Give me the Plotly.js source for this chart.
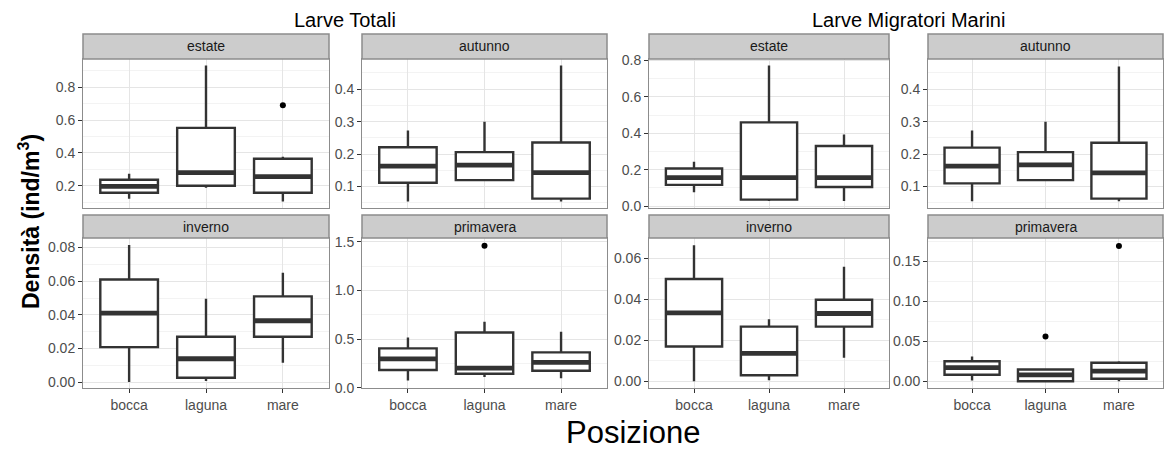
<!DOCTYPE html>
<html>
<head>
<meta charset="utf-8">
<script src="https://cdn.plot.ly/plotly-3.0.1.min.js"></script>
<style>
  html, body { margin: 0; padding: 0; background: #ffffff; }
  #chart { width: 1165px; height: 452px; }
</style>
</head>
<body>
<div id="chart"></div>
<script>
// Sampling positions (x categories)
const positions = ['bocca', 'laguna', 'mare'];

// Box summaries per position: [lower whisker, Q1, median, Q3, upper whisker]
const totaliEstate     = [[0.120, 0.157, 0.196, 0.236, 0.273], [0.188, 0.200, 0.279, 0.552, 0.933], [0.103, 0.157, 0.255, 0.364, 0.376]];
const totaliAutunno    = [[0.054, 0.112, 0.163, 0.221, 0.273], [0.120, 0.120, 0.166, 0.206, 0.300], [0.054, 0.063, 0.143, 0.236, 0.473]];
const totaliInverno    = [[0.000, 0.0208, 0.041, 0.061, 0.0816], [0.0006, 0.0026, 0.0139, 0.027, 0.0496], [0.0115, 0.027, 0.0365, 0.051, 0.065]];
const totaliPrimavera  = [[0.073, 0.182, 0.295, 0.404, 0.517], [0.110, 0.143, 0.200, 0.568, 0.677], [0.097, 0.174, 0.260, 0.363, 0.574]];
const marineEstate     = [[0.077, 0.117, 0.157, 0.207, 0.244], [0.028, 0.036, 0.157, 0.460, 0.773], [0.028, 0.105, 0.157, 0.330, 0.394]];
const marineAutunno    = [[0.055, 0.110, 0.163, 0.220, 0.273], [0.120, 0.120, 0.167, 0.206, 0.300], [0.055, 0.063, 0.142, 0.235, 0.470]];
const marineInverno    = [[0.000, 0.0169, 0.0333, 0.0498, 0.0663], [0.0005, 0.0029, 0.0136, 0.0266, 0.0302], [0.0114, 0.0266, 0.033, 0.0397, 0.0558]];
const marinePrimavera  = [[0.001, 0.008, 0.017, 0.025, 0.031], [0.000, 0.000, 0.008, 0.0147, 0.0147], [0.000, 0.003, 0.0126, 0.023, 0.025]];

// Outlying observations per position
const totaliEstateOut    = [[], [], [0.69]];
const totaliPrimaveraOut = [[], [1.46], []];
const marinePrimaveraOut = [[], [0.056], [0.169]];
const noOutliers         = [[], [], []];

// Facet labels and group titles
const seasons = ['estate', 'autunno', 'inverno', 'primavera'];
const groupTitles = ['Larve Totali', 'Larve Migratori Marini'];
const yTitle = '<b>Densità (ind/m<sup>3</sup>)</b>';
const xTitle = 'Posizione';

// ---- geometry (page pixels -> paper fractions) ----
const W = 1165, H = 452;
const fx = p => p / W;
const fy = p => 1 - p / H;
const cols = [[83, 329], [362, 607], [649, 889], [928, 1163]];
const rows = [[59, 208], [238, 388]];
const strips = [[34, 59], [215, 238]];

// panel table: data, facet cell, y scale
const panels = [
  { stats: totaliEstate,    out: totaliEstateOut,    season: 0, col: 0, row: 0, range: [0.064, 0.972], dtick: 0.2, fmt: '.1f' },
  { stats: totaliAutunno,   out: noOutliers,         season: 1, col: 1, row: 0, range: [0.034, 0.493], dtick: 0.1, fmt: '.1f' },
  { stats: totaliInverno,   out: noOutliers,         season: 2, col: 0, row: 1, range: [-0.0035, 0.0857], dtick: 0.02, fmt: '.2f' },
  { stats: totaliPrimavera, out: totaliPrimaveraOut, season: 3, col: 1, row: 1, range: [-0.004, 1.54], dtick: 0.5, fmt: '.1f' },
  { stats: marineEstate,    out: noOutliers,         season: 0, col: 2, row: 0, range: [-0.01, 0.808], dtick: 0.2, fmt: '.1f' },
  { stats: marineAutunno,   out: noOutliers,         season: 1, col: 3, row: 0, range: [0.034, 0.493], dtick: 0.1, fmt: '.1f' },
  { stats: marineInverno,   out: noOutliers,         season: 2, col: 2, row: 1, range: [-0.0033, 0.0698], dtick: 0.02, fmt: '.2f' },
  { stats: marinePrimavera, out: marinePrimaveraOut, season: 3, col: 3, row: 1, range: [-0.0085, 0.179], dtick: 0.05, fmt: '.2f' }
];

const FONT = 'Liberation Sans, Arial, sans-serif';
const TICK_SIZE = 14;
const BOX_W = 0.75;
const traces = [];
const shapes = [];
const annotations = [];
const layout = {
  width: W, height: H,
  margin: { l: 0, r: 0, t: 0, b: 0 },
  paper_bgcolor: '#ffffff',
  plot_bgcolor: '#ffffff',
  showlegend: false,
  font: { family: FONT, color: '#4d4d4d', size: 12 }
};

panels.forEach((p, k) => {
  const n = k + 1;
  const xa = 'x' + (n === 1 ? '' : n);
  const ya = 'y' + (n === 1 ? '' : n);
  const xKey = 'xaxis' + (n === 1 ? '' : n);
  const yKey = 'yaxis' + (n === 1 ? '' : n);
  const c = cols[p.col], r = rows[p.row];

  layout[xKey] = {
    domain: [fx(c[0]), fx(c[1])],
    anchor: ya,
    type: 'category',
    categoryorder: 'array',
    categoryarray: positions,
    range: [-0.6, 2.6],
    showgrid: true, gridcolor: '#e5e5e5', gridwidth: 1,
    zeroline: false,
    showline: true, mirror: true, linecolor: '#8c8c8c', linewidth: 1,
    ticks: p.row === 1 ? 'outside' : '',
    ticklen: 4, tickcolor: '#333333', tickwidth: 1,
    showticklabels: p.row === 1,
    tickfont: { family: FONT, size: TICK_SIZE, color: '#4d4d4d' },
    fixedrange: true
  };
  layout[yKey] = {
    domain: [fy(r[1]), fy(r[0])],
    anchor: xa,
    range: p.range,
    tick0: 0, dtick: p.dtick,
    tickformat: p.fmt,
    showgrid: true, gridcolor: '#e5e5e5', gridwidth: 1,
    minor: { tick0: 0, dtick: p.dtick / 2, showgrid: true, gridcolor: '#f3f3f3', gridwidth: 1, ticks: '' },
    zeroline: false,
    showline: true, mirror: true, linecolor: '#8c8c8c', linewidth: 1,
    ticks: 'outside', ticklen: 4, tickcolor: '#333333', tickwidth: 1,
    tickfont: { family: FONT, size: TICK_SIZE, color: '#4d4d4d' },
    fixedrange: true
  };

  traces.push({
    type: 'box',
    xaxis: xa, yaxis: ya,
    x: positions,
    lowerfence: p.stats.map(s => s[0]),
    q1: p.stats.map(s => s[1]),
    median: p.stats.map(s => s[2]),
    q3: p.stats.map(s => s[3]),
    upperfence: p.stats.map(s => s[4]),
    width: BOX_W,
    whiskerwidth: 0,
    boxpoints: false,
    fillcolor: '#ffffff',
    line: { color: '#333333', width: 2.4 },
    hoverinfo: 'skip'
  });

  // outlying points
  const ox = [], oy = [];
  p.out.forEach((vals, i) => vals.forEach(v => { ox.push(positions[i]); oy.push(v); }));
  if (ox.length) {
    traces.push({
      type: 'scatter', mode: 'markers',
      xaxis: xa, yaxis: ya,
      x: ox, y: oy,
      marker: { color: '#000000', size: 6 },
      hoverinfo: 'skip'
    });
  }

  // heavier median bars
  p.stats.forEach((s, i) => {
    shapes.push({
      type: 'line', xref: xa, yref: ya,
      x0: i - BOX_W / 2, x1: i + BOX_W / 2, y0: s[2], y1: s[2],
      line: { color: '#333333', width: 4.8 }
    });
  });

  // facet strip
  const st = strips[p.row];
  shapes.push({
    type: 'rect', xref: 'paper', yref: 'paper',
    x0: fx(c[0]), x1: fx(c[1]), y0: fy(st[1]), y1: fy(st[0]),
    fillcolor: '#cccccc',
    line: { color: '#8c8c8c', width: 1.5 }
  });
  annotations.push({
    xref: 'paper', yref: 'paper',
    x: fx((c[0] + c[1]) / 2), y: fy((st[0] + st[1]) / 2),
    xanchor: 'center', yanchor: 'middle',
    text: seasons[p.season], showarrow: false,
    font: { family: FONT, size: 14, color: '#1a1a1a' }
  });
});

// group titles
annotations.push({
  xref: 'paper', yref: 'paper', x: fx(345), y: fy(20),
  xanchor: 'center', yanchor: 'middle', showarrow: false,
  text: groupTitles[0], font: { family: FONT, size: 20, color: '#000000' }
});
annotations.push({
  xref: 'paper', yref: 'paper', x: fx(908), y: fy(20),
  xanchor: 'center', yanchor: 'middle', showarrow: false,
  text: groupTitles[1], font: { family: FONT, size: 20, color: '#000000' }
});

// axis titles
annotations.push({
  xref: 'paper', yref: 'paper', x: fx(29), y: fy(222),
  xanchor: 'center', yanchor: 'middle', showarrow: false, textangle: -90,
  text: yTitle, font: { family: FONT, size: 23, color: '#000000' }
});
annotations.push({
  xref: 'paper', yref: 'paper', x: fx(633), y: fy(432),
  xanchor: 'center', yanchor: 'middle', showarrow: false,
  text: xTitle, font: { family: FONT, size: 31, color: '#000000' }
});

layout.shapes = shapes;
layout.annotations = annotations;

Plotly.newPlot('chart', traces, layout, { staticPlot: true, displayModeBar: false });
</script>
</body>
</html>
